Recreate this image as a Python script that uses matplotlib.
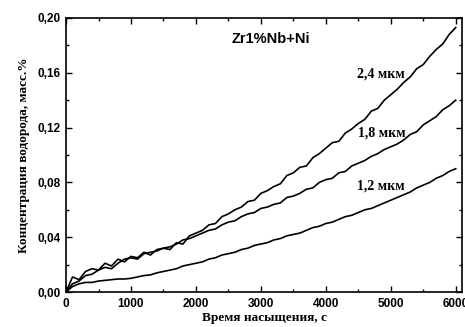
import numpy as np
import matplotlib.pyplot as plt
from matplotlib.ticker import MultipleLocator, FuncFormatter

# -------------------------
# Data: hydrogen concentration vs saturation time
# -------------------------
time_s = np.arange(0, 6001, 100)

c_24 = [0.000, 0.011, 0.009, 0.015, 0.017, 0.016, 0.021, 0.019, 0.024, 0.022,
        0.026, 0.025, 0.029, 0.027, 0.031, 0.032, 0.031, 0.036, 0.035, 0.041,
        0.043, 0.045, 0.049, 0.050, 0.055, 0.057, 0.060, 0.062, 0.066, 0.067,
        0.072, 0.074, 0.077, 0.079, 0.085, 0.087, 0.091, 0.092, 0.098, 0.101,
        0.105, 0.109, 0.110, 0.116, 0.119, 0.123, 0.126, 0.132, 0.134, 0.140,
        0.144, 0.148, 0.153, 0.157, 0.163, 0.166, 0.172, 0.177, 0.181, 0.188,
        0.193]

c_18 = [0.000, 0.006, 0.008, 0.012, 0.013, 0.016, 0.018, 0.017, 0.021, 0.024,
        0.025, 0.024, 0.028, 0.029, 0.030, 0.032, 0.033, 0.035, 0.038, 0.039,
        0.041, 0.043, 0.045, 0.046, 0.049, 0.051, 0.052, 0.055, 0.057, 0.058,
        0.061, 0.062, 0.064, 0.065, 0.069, 0.070, 0.072, 0.075, 0.076, 0.080,
        0.082, 0.083, 0.087, 0.088, 0.092, 0.094, 0.096, 0.099, 0.101, 0.104,
        0.106, 0.108, 0.111, 0.115, 0.117, 0.122, 0.125, 0.128, 0.133, 0.136,
        0.140]

c_12 = [0.000, 0.004, 0.006, 0.007, 0.007, 0.008, 0.0085, 0.009, 0.0095, 0.0095,
        0.010, 0.011, 0.012, 0.0125, 0.014, 0.015, 0.016, 0.017, 0.019, 0.020,
        0.021, 0.022, 0.024, 0.025, 0.027, 0.028, 0.029, 0.031, 0.032, 0.034,
        0.035, 0.036, 0.038, 0.039, 0.041, 0.042, 0.043, 0.045, 0.047, 0.048,
        0.050, 0.051, 0.053, 0.055, 0.056, 0.058, 0.060, 0.061, 0.063, 0.065,
        0.067, 0.069, 0.071, 0.073, 0.076, 0.078, 0.080, 0.083, 0.085, 0.088,
        0.090]

labels = ["2,4 мкм", "1,8 мкм", "1,2 мкм"]
label_pos = [(4850, 0.159), (4860, 0.116), (4850, 0.077)]

# -------------------------
# Plot
# -------------------------
fig = plt.figure(figsize=(4.65, 3.27), dpi=100)
ax = fig.add_axes([0.142, 0.107, 0.852, 0.838])

for c in (c_24, c_18, c_12):
    ax.plot(time_s, c, color='black', lw=1.2)

for lab, (x, y) in zip(labels, label_pos):
    ax.text(x, y, lab, ha='center', va='center', fontsize=10,
            fontweight='bold', family='Liberation Serif')

ax.text(3150, 0.185, "Zr1%Nb+Ni", ha='center', va='center', fontsize=10.5,
        fontweight='bold', family='Liberation Sans')

ax.set_xlim(0, 6100)
ax.set_ylim(0, 0.20)
ax.xaxis.set_major_locator(MultipleLocator(1000))
ax.xaxis.set_minor_locator(MultipleLocator(500))
ax.yaxis.set_major_locator(MultipleLocator(0.04))
ax.yaxis.set_minor_locator(MultipleLocator(0.02))
ax.yaxis.set_major_formatter(FuncFormatter(lambda v, p: f"{v:.2f}".replace('.', ',')))
ax.tick_params(which='both', direction='in', top=True, right=True, width=1)
ax.tick_params(which='major', length=4, pad=4)
ax.tick_params(which='minor', length=2)
for lab in ax.get_xticklabels() + ax.get_yticklabels():
    lab.set_fontweight('bold')
    lab.set_fontsize(8.5)
    lab.set_family('Liberation Sans')
for sp in ax.spines.values():
    sp.set_linewidth(1.2)

ax.set_xlabel("Время насыщения, с", fontsize=9.5, fontweight='bold',
              family='Liberation Serif', labelpad=2)
ax.set_ylabel("Концентрация водорода, масс.%", fontsize=9.5, fontweight='bold',
              family='Liberation Serif', labelpad=5)

fig.savefig("out.png", dpi=100)
